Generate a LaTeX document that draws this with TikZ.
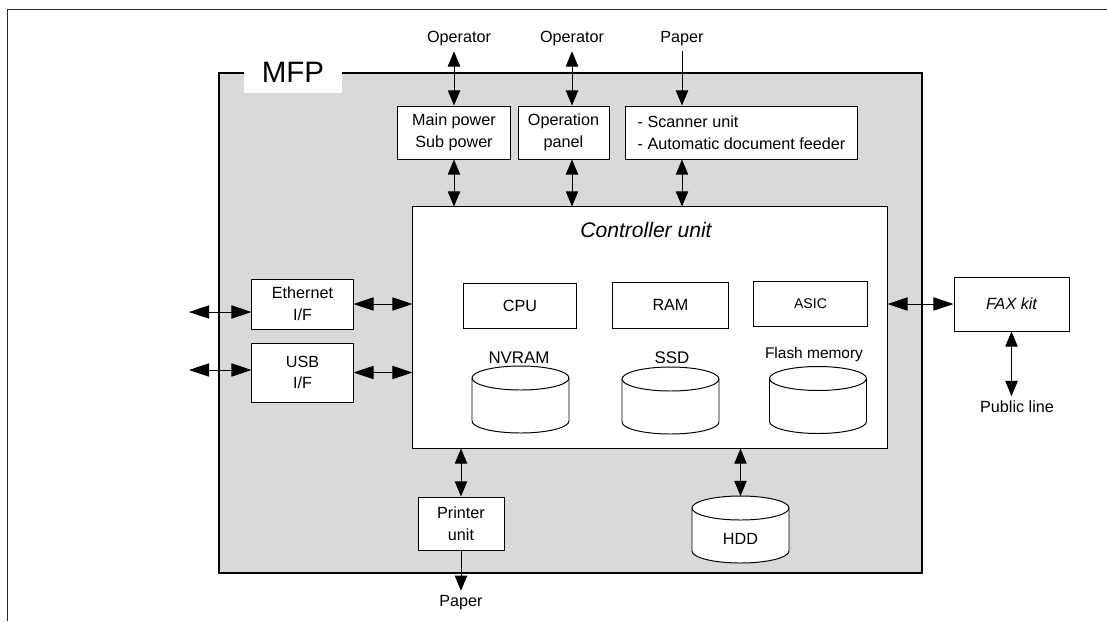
\documentclass[tikz,border=0pt]{standalone}
\usepackage{fontspec}
\setmainfont{Liberation Sans}
\usetikzlibrary{arrows.meta}

% #1 = x of centre, #2 = y of top ellipse centre
\newcommand{\storagedrum}[2]{%
  \draw[line width=0.7pt, fill=white] (#1-48.5,#2) -- (#1-48.5,#2+43)
    arc[start angle=180, end angle=0, x radius=48.5, y radius=12] -- (#1+48.5,#2)
    arc[start angle=0, end angle=-180, x radius=48.5, y radius=12] -- cycle;
  \draw[line width=0.7pt] (#1-48.5,#2) arc[start angle=180, end angle=0, x radius=48.5, y radius=12];}

\begin{document}
\begin{tikzpicture}[x=0.025cm, y=-0.025cm,
  every node/.style={font=\fontsize{11.5}{15.5}\selectfont},
  box/.style={draw, fill=white, line width=0.7pt, align=center, inner sep=0pt},
  harr/.style={line width=0.7pt, {Triangle[length=0.5cm,width=0.33cm]}-{Triangle[length=0.5cm,width=0.33cm]}},
  varr/.style={line width=0.7pt, {Triangle[length=0.38cm,width=0.31cm]}-{Triangle[length=0.38cm,width=0.31cm]}},
  oneway/.style={line width=0.7pt, -{Triangle[length=0.38cm,width=0.31cm]}}]

\useasboundingbox (0,0) rectangle (1107,621);
\draw[line width=0.7pt, black!85] (7,621) -- (7,9) -- (1107,9);

% MFP housing
\draw[line width=0.8pt, fill=gray!30] (219,73) rectangle (922,573);
\fill[white] (244,71) rectangle (342,93);
\node[font=\fontsize{21}{24}\selectfont] (mfp) at (293,72) {MFP};

% outside
\node (oper1) at (459,39) {Operator};
\node (oper2) at (572,39) {Operator};
\node (papin) at (682,39) {Paper};
\node (publine) at (1017,407) {Public line};
\node (papout) at (461,603) {Paper};
\coordinate (ethnet) at (189,312);
\coordinate (usbnet) at (189,370);

% units
\node[box, minimum width=2.8cm, minimum height=1.325cm] (power) at (454,132.5) {Main power\\Sub power};
\node[box, minimum width=2.275cm, minimum height=1.325cm] (panel) at (563.5,132.5) {Operation\\panel};
\node[box, minimum width=5.775cm, minimum height=1.325cm, align=left] (scan) at (741.5,132.5) {- Scanner unit\\- Automatic document feeder};
\node[box, minimum width=2.525cm, minimum height=1.25cm] (eth) at (302.5,304) {Ethernet\\I/F};
\node[box, minimum width=2.525cm, minimum height=1.475cm] (usb) at (302.5,372.5) {USB\\I/F};
\node[box, minimum width=2.875cm, minimum height=1.35cm, font=\fontsize{11.5}{15.5}\selectfont\itshape] (fax) at (1011.5,304) {FAX kit};
\node[box, minimum width=2.15cm, minimum height=1.325cm] (prn) at (461,523.5) {Printer\\unit};
\storagedrum{740.5}{508}
\coordinate (hddtop) at (740.5,496);
\node (hdd) at (740.5,539) {HDD};

% controller
\node[box, minimum width=11.85cm, minimum height=6.025cm] (ctrl) at (650,327.5) {};
\node[font=\fontsize{15}{18}\selectfont\itshape] (ctrltitle) at (646,230) {Controller unit};
\node[box, minimum width=2.8cm, minimum height=1.125cm] (cpu) at (520,305.5) {CPU};
\node[box, minimum width=2.875cm, minimum height=1.15cm] (ram) at (670.5,305) {RAM};
\node[box, minimum width=2.825cm, minimum height=1.125cm, font=\fontsize{10}{12}\selectfont] (asic) at (810.5,303.5) {ASIC};
\node[font=\fontsize{12}{14}\selectfont] (nvram) at (519,358) {NVRAM};
\node[font=\fontsize{12}{14}\selectfont] (ssd) at (672,358) {SSD};
\node[font=\fontsize{11}{13}\selectfont] (flash) at (814,354) {Flash memory};
\storagedrum{520.5}{378}
\storagedrum{670.5}{379}
\storagedrum{818}{378.5}

% connectors
\draw[varr] (oper1.south -| power.north) -- (power.north);
\draw[varr] (oper2.south) -- (oper2.south |- panel.north);
\draw[oneway] (papin.south) -- (papin.south |- scan.north);
\draw[varr] (power.south) -- (power.south |- ctrl.north);
\draw[varr] (panel.south -| oper2.south) -- (ctrl.north -| oper2.south);
\draw[varr] (scan.south -| papin.south) -- (ctrl.north -| papin.south);
\draw[harr] (ethnet) -- (ethnet -| eth.west);
\draw[harr] (usbnet) -- (usbnet -| usb.west);
\draw[harr] (eth.east) -- (eth.east -| ctrl.west);
\draw[harr] (usb.east) -- (usb.east -| ctrl.west);
\draw[harr] (ctrl.east |- fax.west) -- (fax.west);
\draw[varr] (fax.south) -- (fax.south |- publine.north);
\draw[varr] (ctrl.south -| prn.north) -- (prn.north);
\draw[oneway] (prn.south) -- (papout.north);
\draw[varr] (ctrl.south -| hddtop) -- (hddtop);
\end{tikzpicture}
\end{document}
